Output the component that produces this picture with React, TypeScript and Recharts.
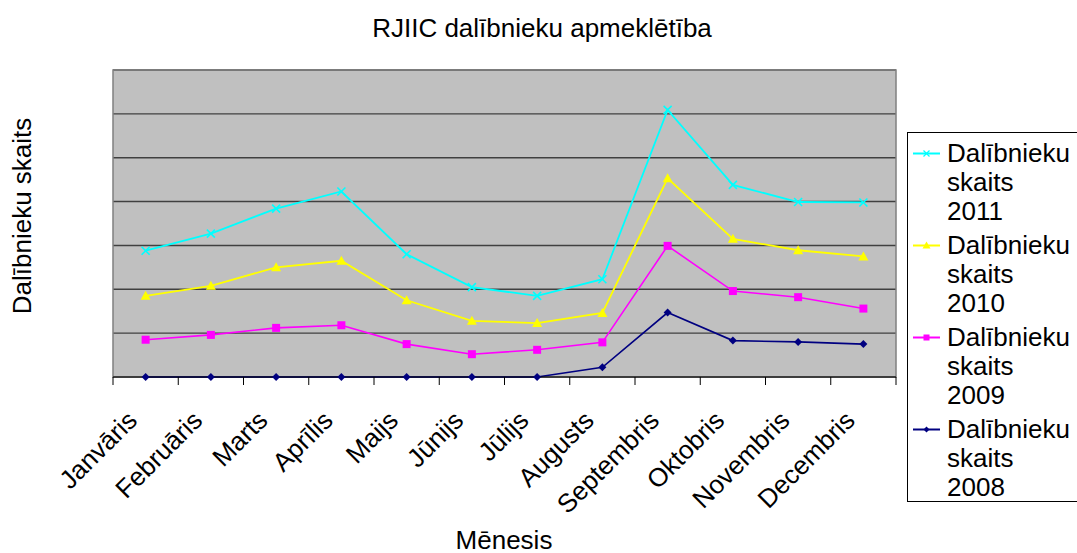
import React from 'react';
import { LineChart, Line, XAxis, YAxis, CartesianGrid, ReferenceArea } from 'recharts';

const W = 1077;
const H = 553;
const PLOT_LEFT = 113;
const PLOT_RIGHT = 896;
const PLOT_TOP = 70;
const PLOT_BOTTOM = 377;
const BAND = (PLOT_RIGHT - PLOT_LEFT) / 12;
const FONT = '"Liberation Sans", Arial, sans-serif';
const FS = 26;

const months = ['Janvāris', 'Februāris', 'Marts', 'Aprīlis', 'Maijs', 'Jūnijs', 'Jūlijs', 'Augusts', 'Septembris', 'Oktobris', 'Novembris', 'Decembris'];
const s2011 = [288, 327, 384, 423, 280, 205, 185, 223, 609, 438, 399, 398];
const s2010 = [185, 208, 250, 265, 175, 128, 123, 146, 453, 315, 289, 275];
const s2009 = [85, 96, 112, 118, 75, 52, 62, 79, 299, 196, 182, 156];
const s2008 = [0, 0, 0, 0, 0, 0, 0, 22, 147, 83, 80, 75];
const yTicks = [0, 100, 200, 300, 400, 500, 600, 700];
const xTicks = [0, 1, 2, 3, 4, 5, 6, 7, 8, 9, 10, 11, 12];

const data = months.map((m, i) => ({
  x: i + 0.5,
  name: m,
  y2011: s2011[i],
  y2010: s2010[i],
  y2009: s2009[i],
  y2008: s2008[i],
}));

const xMark = (color: string) => (p: any) => {
  const { cx, cy, index } = p;
  if (cx == null || cy == null) return <g key={index} />;
  return (
    <g key={index} stroke={color} strokeWidth={1.6}>
      <line x1={cx - 4} y1={cy - 4} x2={cx + 4} y2={cy + 4} />
      <line x1={cx - 4} y1={cy + 4} x2={cx + 4} y2={cy - 4} />
    </g>
  );
};

const triMark = (color: string) => (p: any) => {
  const { cx, cy, index } = p;
  if (cx == null || cy == null) return <g key={index} />;
  return <polygon key={index} points={`${cx},${cy - 5} ${cx + 5},${cy + 4} ${cx - 5},${cy + 4}`} fill={color} />;
};

const sqMark = (color: string) => (p: any) => {
  const { cx, cy, index } = p;
  if (cx == null || cy == null) return <g key={index} />;
  return <rect key={index} x={cx - 4} y={cy - 4} width={8} height={8} fill={color} />;
};

const diaMark = (color: string) => (p: any) => {
  const { cx, cy, index } = p;
  if (cx == null || cy == null) return <g key={index} />;
  return <polygon key={index} points={`${cx},${cy - 4} ${cx + 4},${cy} ${cx},${cy + 4} ${cx - 4},${cy}`} fill={color} />;
};

const MonthTick = (props: any) => {
  const { x, payload } = props;
  const v = payload.value;
  if (v >= 12) return <g />;
  const ax = x + BAND / 2 - 7;
  const ay = PLOT_BOTTOM + 45;
  return (
    <text
      x={ax}
      y={ay}
      textAnchor="end"
      transform={`rotate(-45 ${ax} ${ay})`}
      fontFamily={FONT}
      fontSize={FS}
      fill="#000"
    >
      {months[v]}
    </text>
  );
};

const NoTick = () => <g />;

const legendItems = [
  { year: '2011', color: '#00FFFF', kind: 'x' },
  { year: '2010', color: '#FFFF00', kind: 'tri' },
  { year: '2009', color: '#FF00FF', kind: 'sq' },
  { year: '2008', color: '#000080', kind: 'dia' },
];

const LegendSymbol = ({ color, kind }: { color: string; kind: string }) => {
  const cx = 13.5;
  const cy = 14.5;
  return (
    <svg width={30} height={29} style={{ display: 'block' }}>
      <line x1={0} y1={cy} x2={27} y2={cy} stroke={color} strokeWidth={2} />
      {kind === 'x' && (
        <g stroke={color} strokeWidth={1.3}>
          <line x1={cx - 3} y1={cy - 3} x2={cx + 3} y2={cy + 3} />
          <line x1={cx - 3} y1={cy + 3} x2={cx + 3} y2={cy - 3} />
        </g>
      )}
      {kind === 'tri' && <polygon points={`${cx},${cy - 4} ${cx + 4},${cy + 3} ${cx - 4},${cy + 3}`} fill={color} />}
      {kind === 'sq' && <rect x={cx - 3} y={cy - 3} width={6} height={6} fill={color} />}
      {kind === 'dia' && <polygon points={`${cx},${cy - 3} ${cx + 3},${cy} ${cx},${cy + 3} ${cx - 3},${cy}`} fill={color} />}
    </svg>
  );
};

export default function App() {
  return (
    <div style={{ position: 'absolute', left: 0, top: 0, width: W, height: H, background: '#fff', overflow: 'hidden' }}>
      <LineChart
        width={W}
        height={H}
        data={data}
        margin={{ top: PLOT_TOP, left: PLOT_LEFT, right: W - PLOT_RIGHT, bottom: 0 }}
      >
        <CartesianGrid
          vertical={false}
          horizontal
          fill="#C0C0C0"
          fillOpacity={1}
          stroke="#404040"
          strokeWidth={1.4}
          horizontalValues={yTicks}
        />
        <XAxis
          dataKey="x"
          type="number"
          domain={[0, 12]}
          ticks={xTicks}
          interval={0}
          height={H - PLOT_BOTTOM}
          axisLine={{ stroke: '#000', strokeWidth: 1.2 }}
          tickLine={{ stroke: '#000', strokeWidth: 1 }}
          tickSize={8}
          tick={<MonthTick />}
        />
        <YAxis
          type="number"
          domain={[0, 700]}
          ticks={yTicks}
          interval={0}
          width={0}
          axisLine={false}
          tickLine={false}
          tick={<NoTick />}
        />
        <ReferenceArea x1={0} x2={12} y1={0} y2={700} fill="none" stroke="#808080" strokeWidth={1.5} ifOverflow="visible" />
        <Line dataKey="y2008" stroke="#000080" strokeWidth={1.6} dot={diaMark('#000080')} isAnimationActive={false} />
        <Line dataKey="y2009" stroke="#FF00FF" strokeWidth={1.6} dot={sqMark('#FF00FF')} isAnimationActive={false} />
        <Line dataKey="y2010" stroke="#FFFF00" strokeWidth={1.8} dot={triMark('#FFFF00')} isAnimationActive={false} />
        <Line dataKey="y2011" stroke="#00FFFF" strokeWidth={1.8} dot={xMark('#00FFFF')} isAnimationActive={false} />
      </LineChart>

      <svg width={W} height={H} style={{ position: 'absolute', left: 0, top: 0, pointerEvents: 'none' }}>
        <text x={542} y={37} textAnchor="middle" fontFamily={FONT} fontSize={FS} fill="#000">
          RJIIC dalībnieku apmeklētība
        </text>
        <text x={31} y={216} textAnchor="middle" transform="rotate(-90 31 216)" fontFamily={FONT} fontSize={FS} fill="#000">
          Dalībnieku skaits
        </text>
        <text x={504} y={549} textAnchor="middle" fontFamily={FONT} fontSize={FS} fill="#000">
          Mēnesis
        </text>
      </svg>

      <div
        style={{
          position: 'absolute',
          left: 907,
          top: 132,
          width: 175,
          height: 370,
          border: '1px solid #000',
          background: '#fff',
          boxSizing: 'border-box',
          paddingTop: 6,
          paddingLeft: 5,
          fontFamily: FONT,
          fontSize: FS,
          lineHeight: '29px',
          color: '#000',
        }}
      >
        {legendItems.map((it) => (
          <div key={it.year} style={{ display: 'flex', alignItems: 'flex-start', marginBottom: 5 }}>
            <LegendSymbol color={it.color} kind={it.kind} />
            <div style={{ marginLeft: 4 }}>
              Dalībnieku
              <br />
              skaits
              <br />
              {it.year}
            </div>
          </div>
        ))}
      </div>
    </div>
  );
}
